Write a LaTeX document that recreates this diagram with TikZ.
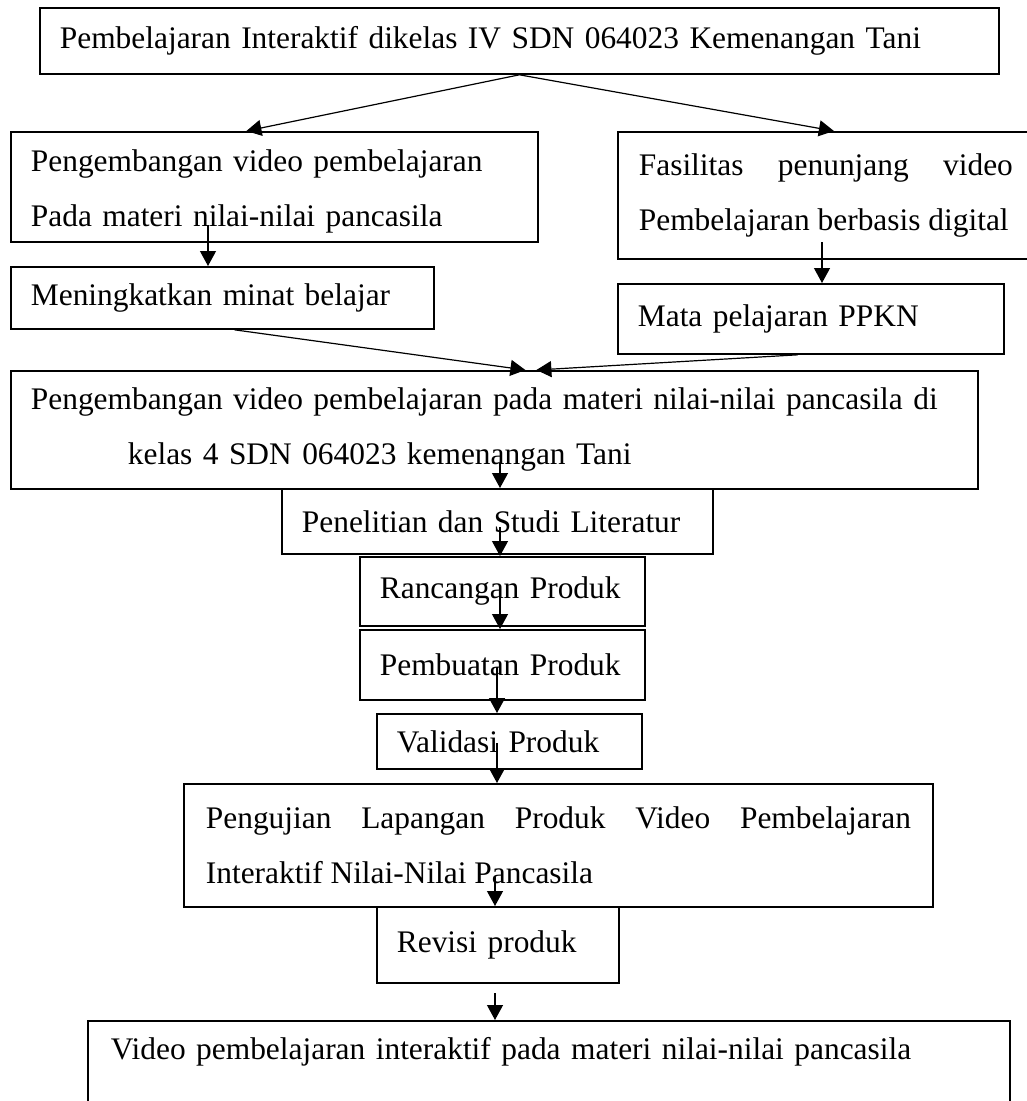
\documentclass[tikz,border=0pt]{standalone}
\usepackage{fontspec}
\setmainfont{Liberation Serif}
\usetikzlibrary{arrows.meta, positioning, calc}
\hyphenpenalty=10000
\exhyphenpenalty=10000

\begin{document}
\begin{tikzpicture}[x=1pt, y=-1pt,
    box/.style={draw, line width=1.8pt, anchor=north west, inner xsep=20pt, inner ysep=4pt, align=left, font=\fontsize{31.4}{55}\selectfont},
    arr/.style={line width=1.2pt, -{Triangle[length=15pt, width=16pt]}}]
    \useasboundingbox (0,0) rectangle (1027,1101);
    \clip (0,0) rectangle (1027,1101);

    % Top
    \node[box, text width=919pt, minimum height=66pt] (b1) at (39,7) {Pembelajaran Interaktif dikelas IV SDN 064023 Kemenangan Tani};

    % Two branches
    \node[box, text width=487pt, minimum height=110pt, text depth=52pt] (b2) at (10,131) {Pengembangan video pembelajaran\\Pada materi nilai-nilai pancasila};
    \node[box, text width=374pt, inner xsep=21pt, minimum height=127pt, align=justify] (b3) at (617,131) {Fasilitas penunjang video Pembelajaran berbasis digital};
    \node[box, text width=383pt, minimum height=62pt] (b4) at (10,266) {Meningkatkan minat belajar};
    \node[box, text width=346pt, minimum height=70pt] (b5) at (617,283) {Mata pelajaran PPKN};

    % Main column
    \node[box, text width=927pt, minimum height=118pt] (b6) at (10,370) {Pengembangan video pembelajaran pada materi nilai-nilai pancasila di\\\hspace*{97pt}kelas 4 SDN 064023 kemenangan Tani};
    \node[box, text width=391pt, minimum height=65pt] (b7) at (281,488) {Penelitian dan Studi Literatur};
    \node[box, text width=245pt, minimum height=69pt] (b8) at (359,556) {Rancangan Produk};
    \node[box, text width=245pt, minimum height=70pt] (b9) at (359,629) {Pembuatan Produk};
    \node[box, text width=225pt, minimum height=55pt] (b10) at (376,713) {Validasi Produk};
    \node[box, text width=705pt, inner xsep=22pt, minimum height=123pt, align=justify] (b11) at (183,783) {Pengujian Lapangan Produk Video Pembelajaran Interaktif Nilai-Nilai Pancasila};
    \node[box, text width=202pt, minimum height=76pt] (b12) at (376,906) {Revisi produk};
    \node[box, text width=876pt, inner xsep=23pt, inner ysep=10pt, text height=29pt, text depth=80pt] (b13) at (87,1020) {Video pembelajaran interaktif pada materi nilai-nilai pancasila};

    % Arrows
    \draw[arr] (b1.south) -- ([xshift=-28pt]b2.north);
    \draw[arr] (b1.south) -- ([xshift=8pt]b3.north);
    \coordinate (s2) at (208,225);
    \draw[arr] (s2) -- (s2 |- b4.north);
    \coordinate (s3) at (822,242);
    \draw[arr] (s3) -- (s3 |- b5.north);
    \draw[arr] ([xshift=12pt]b4.south) -- ([xshift=31pt]b6.north);
    \draw[arr] ([xshift=-13pt]b5.south) -- ([xshift=42pt]b6.north);
    \coordinate (s6) at (500,463);
    \draw[arr] (s6) -- (s6 |- b7.north);
    \coordinate (s7) at (500,527);
    \draw[arr] (s7) -- (s7 |- b8.north);
    \coordinate (s8) at (500,590);
    \draw[arr] (s8) -- (s8 |- b9.north);
    \coordinate (s9) at (497,667);
    \draw[arr] (s9) -- (s9 |- b10.north);
    \coordinate (s10) at (497,743);
    \draw[arr] (s10) -- (s10 |- b11.north);
    \coordinate (s11) at (495,877);
    \draw[arr] (s11) -- (s11 |- b12.north);
    \coordinate (s12) at (495,993);
    \draw[arr] (s12) -- (s12 |- b13.north);
\end{tikzpicture}
\end{document}
